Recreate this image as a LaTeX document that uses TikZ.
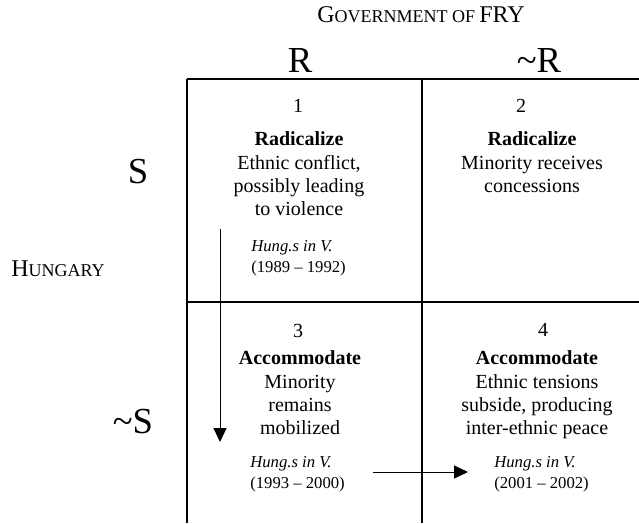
\documentclass[tikz,border=0pt]{standalone}
\usepackage{fontspec}
\setmainfont{Liberation Serif}
\usetikzlibrary{arrows.meta}
\tikzset{
	grid line/.style={line width=0.9pt},
	trend/.style={line width=0.6pt, -{Triangle[length=8.4pt,width=7.8pt]}},
	cellnum/.style={anchor=base, inner sep=0pt, font=\fontsize{12}{14}\selectfont},
	cellbody/.style={anchor=north, inner sep=0pt, align=center, font=\fontsize{12}{14}\selectfont},
	casebody/.style={anchor=north west, inner sep=0pt, align=left, font=\fontsize{10}{12.6}\selectfont},
	player/.style={anchor=base, inner sep=0pt, font=\fontsize{22}{26}\selectfont},
}
\def\bigsc#1#2{{\fontsize{14.4}{17}\selectfont #1{\fontsize{10.8}{13}\selectfont #2}}}

\begin{document}
\begin{tikzpicture}[x=0.6pt, y=-0.6pt]
			%%%%% START %%%%%
			\useasboundingbox (0, 0) rectangle (639, 523);
			
			\node[anchor=base, inner sep=0pt] (gov) at (421, 23) {\bigsc{G}{OVERNMENT OF} \bigsc{FRY}{}};
			\node[anchor=base west, inner sep=0pt] (hun) at (11, 276) {\bigsc{H}{UNGARY}};
			
			\node[player] (r) at (300, 73) {R};
			\node[player] (nr) at (539, 73) {\textasciitilde R};
			\node[player] (s) at (138, 183) {S};
			\node[player] (ns) at (133, 433) {\textasciitilde S};
			
			\draw[grid line] (187, 79) -- (639, 79);
			\draw[grid line] (187, 302) -- (639, 302);
			\draw[grid line] (187, 79) -- (187, 523);
			\draw[grid line] (422, 79) -- (422, 523);
			
			\node[cellnum] (n1) at (298, 113) {1};
			\node[cellbody] (c1) at (299, 131.5) {\textbf{Radicalize}\\Ethnic conflict,\\possibly leading\\to violence};
			\node[casebody] (k1) at (251, 240) {\textit{Hung.s in V.}\\(1989 -- 1992)};
			
			\node[cellnum] (n2) at (521, 113) {2};
			\node[cellbody] (c2) at (532, 131.5) {\textbf{Radicalize}\\Minority receives\\concessions};
			
			\node[cellnum] (n3) at (298, 337) {3};
			\node[cellbody] (c3) at (300, 350.5) {\textbf{Accommodate}\\Minority\\remains\\mobilized};
			\node[casebody] (k3) at (250, 456) {\textit{Hung.s in V.}\\(1993 -- 2000)};
			
			\node[cellnum] (n4) at (543, 336) {4};
			\node[cellbody] (c4) at (537, 350.5) {\textbf{Accommodate}\\Ethnic tensions\\subside, producing\\inter-ethnic peace};
			\node[casebody] (k4) at (494, 456) {\textit{Hung.s in V.}\\(2001 -- 2002)};
			
			\coordinate (v1) at (220, 229);
			\coordinate (v2) at (220, 442);
			\coordinate (h1) at (373, 472);
			\coordinate (h2) at (468, 472);
			\draw[trend] (v1) -- (v2);
			\draw[trend] (h1) -- (h2);
			%%%%% END %%%%%
\end{tikzpicture}
\end{document}
